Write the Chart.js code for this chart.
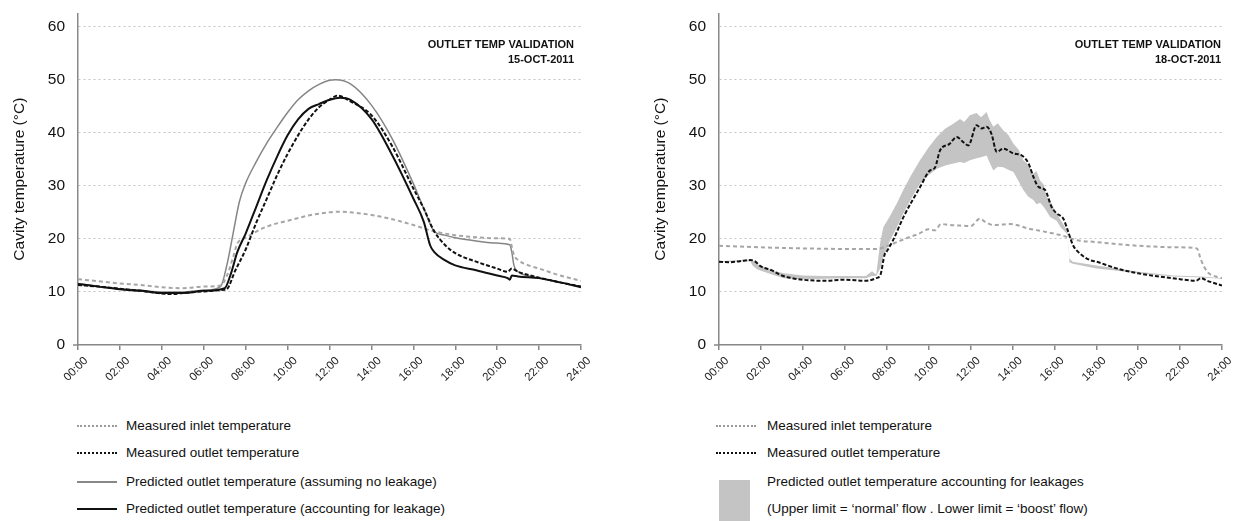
<!DOCTYPE html>
<html>
<head>
<meta charset="utf-8">
<script src="https://cdn.jsdelivr.net/npm/chart.js@4/dist/chart.umd.min.js"></script>
<style>
  body { margin: 0; background: #fff; font-family: "Liberation Sans", Arial, sans-serif; }
  .box { position: absolute; top: -9px; width: 600px; height: 409px; }
  .lg { position: absolute; font-size: 13.5px; line-height: 16px; color: #111; white-space: nowrap; }
  .smp { position: absolute; width: 40px; height: 0; }
</style>
</head>
<body>
<div class="box" style="left:0"><canvas id="chartA"></canvas></div>
<div class="box" style="left:641px"><canvas id="chartB"></canvas></div>

<div class="smp" style="left:77px;top:425px;border-top:2px dotted #9a9a9a"></div>
<div class="lg" style="left:126px;top:418px">Measured inlet temperature</div>
<div class="smp" style="left:77px;top:452px;border-top:2px dotted #111"></div>
<div class="lg" style="left:126px;top:445px">Measured outlet temperature</div>
<div class="smp" style="left:77px;top:481px;border-top:2px solid #888"></div>
<div class="lg" style="left:126px;top:474px">Predicted outlet temperature (assuming no leakage)</div>
<div class="smp" style="left:77px;top:508px;border-top:2px solid #111"></div>
<div class="lg" style="left:126px;top:501px">Predicted outlet temperature (accounting for leakage)</div>

<div class="smp" style="left:716px;top:425px;border-top:2px dotted #9a9a9a"></div>
<div class="lg" style="left:767px;top:418px">Measured inlet temperature</div>
<div class="smp" style="left:716px;top:452px;border-top:2px dotted #111"></div>
<div class="lg" style="left:767px;top:445px">Measured outlet temperature</div>
<div style="position:absolute;left:719px;top:480px;width:31px;height:41px;background:#c4c4c4"></div>
<div class="lg" style="left:767px;top:474px">Predicted outlet temperature accounting for leakages</div>
<div class="lg" style="left:767px;top:501px">(Upper limit = ‘normal’ flow . Lower limit = ‘boost’ flow)</div>

<script>
// ---- 15-OCT-2011 ----
const inletTimesA = [0, 1, 2, 3, 4, 5, 6, 6.8, 7.1, 7.4, 7.6, 8, 9, 10, 11, 12, 12.5, 13, 14, 15, 16, 17, 18, 19, 20, 20.6, 20.7, 20.8, 21, 21.5, 22, 23, 24];
const inletTempsA = [12.4, 12.0, 11.6, 11.3, 10.9, 10.7, 11.0, 11.2, 13, 16.5, 19.1, 20.2, 22.3, 23.4, 24.4, 25.0, 25.1, 25.0, 24.5, 23.7, 22.6, 21.4, 20.7, 20.3, 20.1, 20.0, 18.5, 17, 16, 15, 14.4, 13.1, 12.1];

const outletTimesA = [0, 1, 2, 3, 4, 4.5, 5, 6, 7, 7.1, 7.5, 8, 8.5, 9, 9.5, 10, 10.5, 11, 11.5, 12, 12.4, 13, 14, 15, 16, 16.5, 17, 17.5, 18, 19, 20, 20.5, 20.7, 21, 22, 23, 24];
const outletTempsA = [11.3, 11.0, 10.6, 10.2, 9.7, 9.6, 9.8, 10.1, 10.4, 10.5, 14, 18, 23, 27.5, 32, 36, 39.5, 42.5, 44.8, 46.2, 47.0, 45.9, 43.3, 37.4, 29.5, 25.7, 21.4, 18.9, 17.3, 15.7, 14.4, 13.8, 14.4, 13.8, 12.7, 11.8, 11.0];

const noLeakTimesA = [0, 1, 2, 3, 4, 5, 6, 6.8, 7.1, 7.4, 7.7, 8, 8.5, 9, 9.5, 10, 10.5, 11, 11.5, 12, 12.3, 13, 14, 15, 16, 16.5, 17, 17.5, 18, 19, 20, 20.6, 20.7, 20.8, 21, 21.5, 22, 23, 24];
const noLeakTempsA = [11.6, 11.0, 10.6, 10.3, 10.0, 10.0, 10.3, 11.0, 15, 21, 27, 30.5, 34.5, 38, 41, 43.8, 46.2, 47.9, 49.1, 49.9, 50.0, 49.2, 45.2, 38.8, 30.4, 25.7, 21.4, 20.7, 20.2, 19.6, 19.2, 18.9, 17.5, 15.0, 13.8, 13.0, 12.6, 11.8, 11.0];

const leakTimesA = [0, 1, 2, 3, 4, 5, 6, 7, 7.3, 7.6, 8, 8.5, 9, 9.5, 10, 10.5, 11, 11.5, 12, 12.5, 13, 14, 15, 16, 16.5, 16.8, 17, 17.5, 18, 19, 20, 20.5, 20.6, 20.7, 21, 22, 23, 24];
const leakTempsA = [11.5, 11.0, 10.5, 10.2, 9.8, 9.8, 10.2, 10.7, 13.5, 17.5, 21, 26, 31, 35.5, 39.5, 42.5, 44.5, 45.4, 46.2, 46.6, 46.2, 42.6, 35.7, 27.6, 23.2, 18.8, 17.5, 16.0, 15.0, 14.1, 13.1, 12.6, 12.3, 13.1, 12.9, 12.6, 11.8, 10.9];

// ---- 18-OCT-2011 ----
const inletTimesB = [0, 2, 4, 6, 7.5, 8, 8.5, 9, 9.5, 10, 10.3, 10.6, 11, 11.5, 12, 12.45, 12.7, 13.1, 13.9, 14.8, 15.6, 16.4, 17, 18, 20, 22, 22.8, 23, 23.3, 23.7, 24];
const inletTempsB = [18.7, 18.4, 18.2, 18.1, 18.1, 18.6, 19.4, 20.2, 20.9, 21.8, 21.6, 22.8, 22.6, 22.5, 22.4, 23.8, 23.2, 22.6, 22.8, 21.9, 21.3, 20.6, 19.8, 19.4, 18.7, 18.4, 18.2, 16.0, 13.8, 12.9, 12.6];

const outletTimesB = [0, 0.5, 1, 1.5, 1.7, 2, 2.5, 3, 3.5, 4, 5, 6, 7, 7.5, 7.7, 7.9, 8, 8.3, 8.8, 9.6, 10.07, 10.3, 10.55, 11.0, 11.34, 11.66, 11.9, 12.29, 12.53, 12.77, 13.0, 13.25, 13.57, 14.05, 14.45, 14.77, 15.0, 15.24, 15.56, 15.87, 16.11, 16.43, 16.64, 16.88, 17.2, 17.7, 18, 19, 20, 21, 22, 22.75, 23, 23.3, 24];
const outletTempsB = [15.7, 15.6, 15.8, 16.0, 15.8, 14.8, 14.1, 13.1, 12.6, 12.3, 12.1, 12.3, 12.1, 12.6, 13.2, 17.0, 17.6, 19.7, 24.1, 29.8, 32.9, 33.4, 36.7, 37.9, 39.2, 38.2, 37.6, 41.4, 40.8, 41.1, 39.8, 36.4, 37.0, 36.1, 35.7, 34.2, 31.7, 29.8, 29.2, 26.0, 24.8, 23.8, 21.6, 18.9, 17.3, 16.0, 15.7, 14.4, 13.5, 12.9, 12.4, 12.1, 12.6, 12.1, 11.2];

const bandTimesB = [0, 1.5, 1.6, 1.8, 2, 2.6, 3.1, 4, 5, 6, 7, 7.3, 7.5, 7.7, 7.84, 8.16, 8.5, 8.79, 9.2, 9.59, 10, 10.39, 10.8, 11.18, 11.5, 11.7, 11.97, 12.29, 12.5, 12.77, 12.9, 13.09, 13.3, 13.57, 13.8, 14.05, 14.3, 14.52, 14.75, 15.0, 15.15, 15.32, 15.5, 15.63, 15.8, 16.11, 16.3, 16.59, 16.65, 16.72, 16.88, 18, 19, 20, 21.7, 23, 24];
const bandUpperB = [15.8, 16.1, 16.0, 15.2, 15.0, 14.0, 13.5, 13.1, 13.0, 13.0, 13.0, 13.9, 13.3, 19.5, 22.2, 24.3, 26.8, 29.2, 32.2, 34.8, 37.2, 39.2, 40.8, 41.7, 42.6, 42.0, 43.3, 43.7, 42.9, 43.9, 42.5, 41.1, 41.8, 40.4, 39.6, 37.9, 36.8, 34.8, 34.0, 32.3, 32.8, 31.0, 30.2, 27.9, 27.2, 24.8, 23.6, 21.6, 20.8, 16.3, 15.7, 15.0, 14.4, 13.8, 13.1, 12.9, 12.6];
const bandLowerB = [15.6, 15.8, 15.0, 14.3, 14.0, 13.2, 12.6, 12.4, 12.5, 12.6, 12.6, 13.0, 13.0, 14.5, 16.6, 19.7, 22.3, 24.8, 27.8, 30.4, 32.0, 33.2, 33.8, 34.2, 34.5, 34.3, 34.8, 35.2, 35.4, 35.7, 34.5, 32.9, 33.6, 33.5, 33.0, 32.6, 30.8, 29.2, 28.0, 27.3, 26.5, 26.8, 26.0, 25.2, 24.1, 23.4, 22.2, 21.0, 20.5, 15.6, 15.3, 14.4, 14.0, 13.5, 12.9, 12.7, 12.5];

const hourTicks = [0, 2, 4, 6, 8, 10, 12, 14, 16, 18, 20, 22, 24];
const tempTicks = [0, 10, 20, 30, 40, 50, 60];

const FONT = '"Liberation Sans", Arial, sans-serif';

function pts(xs, ys) {
    return xs.map((x, i) => ({x: x, y: ys[i]}));
}

// bold two-line note in the top right corner, plus the little tick left of the origin
function stamp(line1, line2, dx) {
    return {
        id: 'stamp',
        afterDraw(chart) {
            const c = chart.ctx, a = chart.chartArea;
            c.save();
            c.strokeStyle = '#888';
            c.lineWidth = 1.5;
            c.beginPath();
            c.moveTo(a.left - 5, a.bottom);
            c.lineTo(a.left, a.bottom);
            c.stroke();
            c.font = 'bold 11px ' + FONT;
            c.fillStyle = '#111';
            c.textAlign = 'right';
            c.textBaseline = 'alphabetic';
            c.fillText(line1, a.right - dx, a.top + 35);
            c.fillText(line2, a.right - dx, a.top + 50);
            c.restore();
        }
    };
}

function makeOptions() {
    return {
        responsive: true,
        maintainAspectRatio: false,
        animation: false,
        layout: { padding: { top: 3, right: 19, left: 0, bottom: 0 } },
        plugins: { legend: { display: false }, tooltip: { enabled: false } },
        elements: { point: { radius: 0 } },
        scales: {
            x: {
                type: 'linear',
                min: 0,
                max: 24,
                afterBuildTicks: (s) => { s.ticks = hourTicks.map(v => ({value: v})); },
                afterFit: (s) => { s.height = 55; },
                ticks: {
                    autoSkip: false,
                    minRotation: 45,
                    maxRotation: 45,
                    padding: 4,
                    labelOffset: 8,
                    color: '#222',
                    font: { family: FONT, size: 11.5 },
                    callback: (v) => String(v).padStart(2, '0') + ':00'
                },
                grid: { drawOnChartArea: false, drawTicks: true, tickLength: 5, color: '#888', lineWidth: 1.5 },
                border: { color: '#888', width: 1.5 }
            },
            y: {
                min: 0,
                max: 62.5,
                afterBuildTicks: (s) => { s.ticks = tempTicks.map(v => ({value: v})); },
                afterFit: (s) => { s.width = 78; },
                ticks: {
                    padding: 13,
                    color: '#111',
                    font: { family: FONT, size: 15.5 }
                },
                title: {
                    display: true,
                    text: 'Cavity temperature (°C)',
                    color: '#111',
                    font: { family: FONT, size: 15.5 },
                    padding: { top: 10, bottom: 0 }
                },
                grid: {
                    drawTicks: false,
                    color: (ctx) => ctx.tick && ctx.tick.value === 0 ? 'rgba(0,0,0,0)' : '#c4c4c4',
                    lineWidth: 1
                },
                border: { color: '#888', width: 1.5, dash: [2, 3] }
            }
        }
    };
}

const lineBase = { pointRadius: 0, fill: false, cubicInterpolationMode: 'monotone' };

new Chart(document.getElementById('chartA'), {
    type: 'line',
    data: {
        datasets: [
            Object.assign({ label: 'Measured outlet temperature', data: pts(outletTimesA, outletTempsA),
                borderColor: '#111', borderWidth: 2, borderDash: [4, 2] }, lineBase),
            Object.assign({ label: 'Predicted outlet temperature (accounting for leakage)', data: pts(leakTimesA, leakTempsA),
                borderColor: '#111', borderWidth: 2 }, lineBase),
            Object.assign({ label: 'Measured inlet temperature', data: pts(inletTimesA, inletTempsA),
                borderColor: '#a6a6a6', borderWidth: 2, borderDash: [4, 3] }, lineBase),
            Object.assign({ label: 'Predicted outlet temperature (assuming no leakage)', data: pts(noLeakTimesA, noLeakTempsA),
                borderColor: '#858585', borderWidth: 1.5 }, lineBase)
        ]
    },
    options: makeOptions(),
    plugins: [stamp('OUTLET TEMP VALIDATION', '15-OCT-2011', 7)]
});

new Chart(document.getElementById('chartB'), {
    type: 'line',
    data: {
        datasets: [
            Object.assign({ label: 'Measured outlet temperature', data: pts(outletTimesB, outletTempsB),
                borderColor: '#111', borderWidth: 2, borderDash: [4, 2] }, lineBase),
            Object.assign({ label: 'Measured inlet temperature', data: pts(inletTimesB, inletTempsB),
                borderColor: '#a6a6a6', borderWidth: 2, borderDash: [4, 3] }, lineBase),
            { label: 'upper', data: pts(bandTimesB, bandUpperB), borderWidth: 0, borderColor: 'rgba(0,0,0,0)',
                backgroundColor: '#c4c4c4', fill: '+1', pointRadius: 0 },
            { label: 'lower', data: pts(bandTimesB, bandLowerB), borderWidth: 0, borderColor: 'rgba(0,0,0,0)',
                fill: false, pointRadius: 0 }
        ]
    },
    options: makeOptions(),
    plugins: [stamp('OUTLET TEMP VALIDATION', '18-OCT-2011', 1)]
});
</script>
</body>
</html>
